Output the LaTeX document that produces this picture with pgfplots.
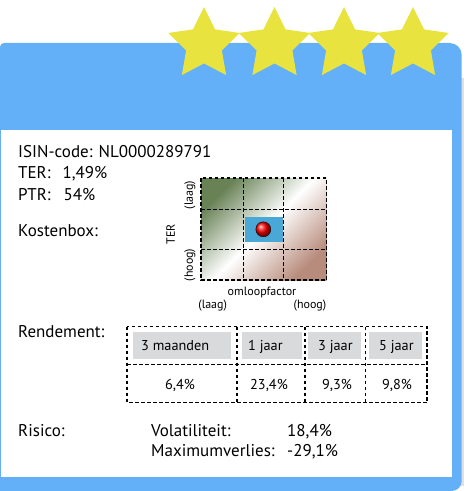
\documentclass[border=0pt]{standalone}
\usepackage{pgfplots}
\pgfplotsset{compat=1.18}
\usepackage{fontspec}
\setmainfont{PT Sans}
\usetikzlibrary{shadings}
\definecolor{frameblue}{RGB}{100,176,248}
\definecolor{staryellow}{RGB}{233,227,63}
\definecolor{cellblue}{RGB}{74,168,214}
\definecolor{hdrgray}{RGB}{217,218,220}
\definecolor{costgreen}{RGB}{104,130,86}
\definecolor{costbrown}{RGB}{184,140,124}
\definecolor{shadow}{RGB}{225,225,225}
\pgfdeclareplotmark{fstar}{%
 \pgfpathmoveto{\pgfpointpolar{90}{\pgfplotmarksize}}%
 \pgfpathlineto{\pgfpointpolar{126}{0.5\pgfplotmarksize}}%
 \pgfpathlineto{\pgfpointpolar{162}{\pgfplotmarksize}}%
 \pgfpathlineto{\pgfpointpolar{198}{0.5\pgfplotmarksize}}%
 \pgfpathlineto{\pgfpointpolar{234}{\pgfplotmarksize}}%
 \pgfpathlineto{\pgfpointpolar{270}{0.5\pgfplotmarksize}}%
 \pgfpathlineto{\pgfpointpolar{306}{\pgfplotmarksize}}%
 \pgfpathlineto{\pgfpointpolar{342}{0.5\pgfplotmarksize}}%
 \pgfpathlineto{\pgfpointpolar{18}{\pgfplotmarksize}}%
 \pgfpathlineto{\pgfpointpolar{54}{0.5\pgfplotmarksize}}%
 \pgfpathclose\pgfusepathqfill}
\newcommand{\fbig}{\fontsize{17bp}{20bp}\selectfont}
\newcommand{\fmid}{\fontsize{14.3bp}{17bp}\selectfont}
\newcommand{\fsm}{\fontsize{12bp}{14bp}\selectfont}
\begin{document}
\begin{tikzpicture}
\begin{axis}[
  width=467bp, height=491bp, scale only axis,
  xmin=0, xmax=467, ymin=0, ymax=491, y dir=reverse,
  hide axis, clip=false,
]
% background / frame
\path (axis cs:0,0) rectangle (axis cs:467,491);
\fill[shadow] (axis cs:461,78) rectangle (axis cs:464,486);
\fill[frameblue] (axis cs:0,491) [rounded corners=4bp] -- (axis cs:0,43) [rounded corners=12bp] -- (axis cs:461.7,43) [rounded corners=10bp] -- (axis cs:461.7,491) [sharp corners] -- cycle;
\fill[white] (axis cs:1,130) rectangle (axis cs:452,477);
% rating stars
\addplot[only marks, mark=fstar, mark size=37.6bp, mark options={fill=staryellow, draw=none}]
  coordinates {(204,44.6) (274.5,44.6) (344,44.6) (413,44.6)};
% header text
\node[anchor=base west, inner sep=0] at (axis cs:18,157.3) {\fbig ISIN-code: NL0000289791};
\node[anchor=base west, inner sep=0] at (axis cs:18,178.3) {\fbig TER:};
\node[anchor=base west, inner sep=0] at (axis cs:62.3,178.3) {\fbig 1,49\%};
\node[anchor=base west, inner sep=0] at (axis cs:18,200) {\fbig PTR:};
\node[anchor=base west, inner sep=0] at (axis cs:63.3,200) {\fbig 54\%};
\node[anchor=base west, inner sep=0] at (axis cs:18,236.7) {\fbig Kostenbox:};
% cost box
\shade[top color=costgreen, bottom color=costbrown, middle color=white, shading angle=45]
  (axis cs:201,178) rectangle (axis cs:326.7,280);
\fill[cellblue] (axis cs:245,216.7) rectangle (axis cs:282.7,241.7);
\draw[black, line width=1.3bp, dash pattern=on 3.5bp off 2.5bp]
  (axis cs:201,178) rectangle (axis cs:326.7,280)
  (axis cs:243.3,178) -- (axis cs:243.3,280)
  (axis cs:283.3,178) -- (axis cs:283.3,280)
  (axis cs:201,209.3) -- (axis cs:326.7,209.3)
  (axis cs:201,249.3) -- (axis cs:326.7,249.3);
\addplot[only marks, mark=ball, mark size=7.5bp, mark options={ball color=red}]
  coordinates {(263.3,229.3)};
\node[rotate=90, inner sep=0] at (axis cs:190,195) {\fsm (laag)};
\node[rotate=90, inner sep=0] at (axis cs:170.7,234) {\fsm TER};
\node[rotate=90, inner sep=0] at (axis cs:190,265) {\fsm (hoog)};
\node[anchor=base, inner sep=0] at (axis cs:262,295) {\fsm omloopfactor};
\node[anchor=base, inner sep=0] at (axis cs:212.7,308.3) {\fsm (laag)};
\node[anchor=base, inner sep=0] at (axis cs:310,308.3) {\fsm (hoog)};
% returns
\node[anchor=base west, inner sep=0] at (axis cs:18,337.3) {\fbig Rendement:};
\fill[hdrgray] (axis cs:133,332) rectangle (axis cs:231,359);
\fill[hdrgray] (axis cs:242,332) rectangle (axis cs:301.7,359);
\fill[hdrgray] (axis cs:308,332) rectangle (axis cs:360.7,359);
\fill[hdrgray] (axis cs:369,332) rectangle (axis cs:422,359);
\draw[black, line width=1.3bp, dash pattern=on 3.5bp off 2.5bp]
  (axis cs:127,326.7) rectangle (axis cs:427,402.7)
  (axis cs:127,364.3) -- (axis cs:427,364.3)
  (axis cs:237,326.7) -- (axis cs:237,402.7)
  (axis cs:305,326.7) -- (axis cs:305,402.7)
  (axis cs:365.3,326.7) -- (axis cs:365.3,402.7);
\node[anchor=base west, inner sep=0] at (axis cs:141,350.7) {\fmid 3 maanden};
\node[anchor=base west, inner sep=0] at (axis cs:248,350.7) {\fmid 1 jaar};
\node[anchor=base west, inner sep=0] at (axis cs:318,350.7) {\fmid 3 jaar};
\node[anchor=base west, inner sep=0] at (axis cs:379,350.7) {\fmid 5 jaar};
\node[anchor=base, inner sep=0] at (axis cs:180,389) {\fmid 6,4\%};
\node[anchor=base, inner sep=0] at (axis cs:269,389) {\fmid 23,4\%};
\node[anchor=base, inner sep=0] at (axis cs:337,389) {\fmid 9,3\%};
\node[anchor=base, inner sep=0] at (axis cs:397,389) {\fmid 9,8\%};
% risk
\node[anchor=base west, inner sep=0] at (axis cs:18,436) {\fbig Risico:};
\node[anchor=base west, inner sep=0] at (axis cs:151,436) {\fbig Volatiliteit:};
\node[anchor=base west, inner sep=0] at (axis cs:287,436) {\fbig 18,4\%};
\node[anchor=base west, inner sep=0] at (axis cs:151,456.7) {\fbig Maximumverlies:};
\node[anchor=base west, inner sep=0] at (axis cs:287,456.7) {\fbig -29,1\%};
\end{axis}
\end{tikzpicture}
\end{document}
